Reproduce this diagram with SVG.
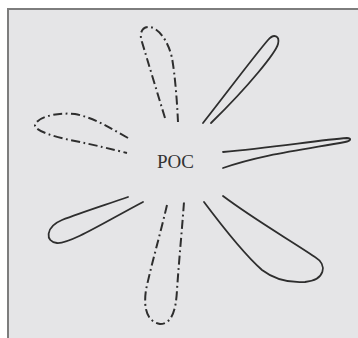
<svg xmlns="http://www.w3.org/2000/svg" width="358" height="338" viewBox="0 0 358 338">
<style>
.solid{fill:none;stroke:#2e2e2e;stroke-width:1.8;stroke-linecap:round}
.dd{fill:none;stroke:#2e2e2e;stroke-width:2;stroke-dasharray:9 3.5 1.8 3.5;stroke-linecap:butt}
.lbl{font-family:"Liberation Serif","Times New Roman",serif;font-size:19px;fill:#333}
</style>
<rect width="358" height="338" fill="#fff"/>
<rect x="7" y="8" width="351" height="330" fill="#e5e5e7"/>
<path d="M8,338 V9 H358" fill="none" stroke="#7d7d7d" stroke-width="2"/>
<g id="center"><text class="lbl" x="157" y="168">POC</text></g>
<g id="lobes">
<g id="lobe-top"><path class="dd" d="M165,118 C158,95 148,62 142,42 C138,30 145,26 150,27 C158,28 168,40 172,58 C175,75 177,100 178,122"/></g>
<g id="lobe-upper-right"><path class="solid" d="M203,123 C225,95 255,55 268,40 C274,33 280,36 278,44 C276,52 250,85 211,123"/></g>
<g id="lobe-right"><path class="solid" d="M223,152 C270,148 320,140 347,138 C352,138 351,141 345,142 C300,150 260,155 223,168"/></g>
<g id="lobe-left"><path class="dd" d="M128,138 C110,128 95,118 75,114 C55,112 35,118 35,126 C36,131 55,137 70,140 C95,145 115,150 127,153"/></g>
<g id="lobe-lower-left"><path class="solid" d="M128,197 C105,205 80,213 62,220 C45,227 45,242 57,243 C70,244 105,222 143,202"/></g>
<g id="lobe-bottom"><path class="dd" d="M167,205 C160,235 150,270 146,290 C143,310 148,322 160,324 C172,324 176,310 177,290 C179,260 182,230 184,202"/></g>
<g id="lobe-lower-right"><path class="solid" d="M204,202 C225,230 245,255 262,270 C275,280 290,283 305,282 C325,280 328,265 315,257 C290,240 255,220 223,196"/></g>
</g>
</svg>
